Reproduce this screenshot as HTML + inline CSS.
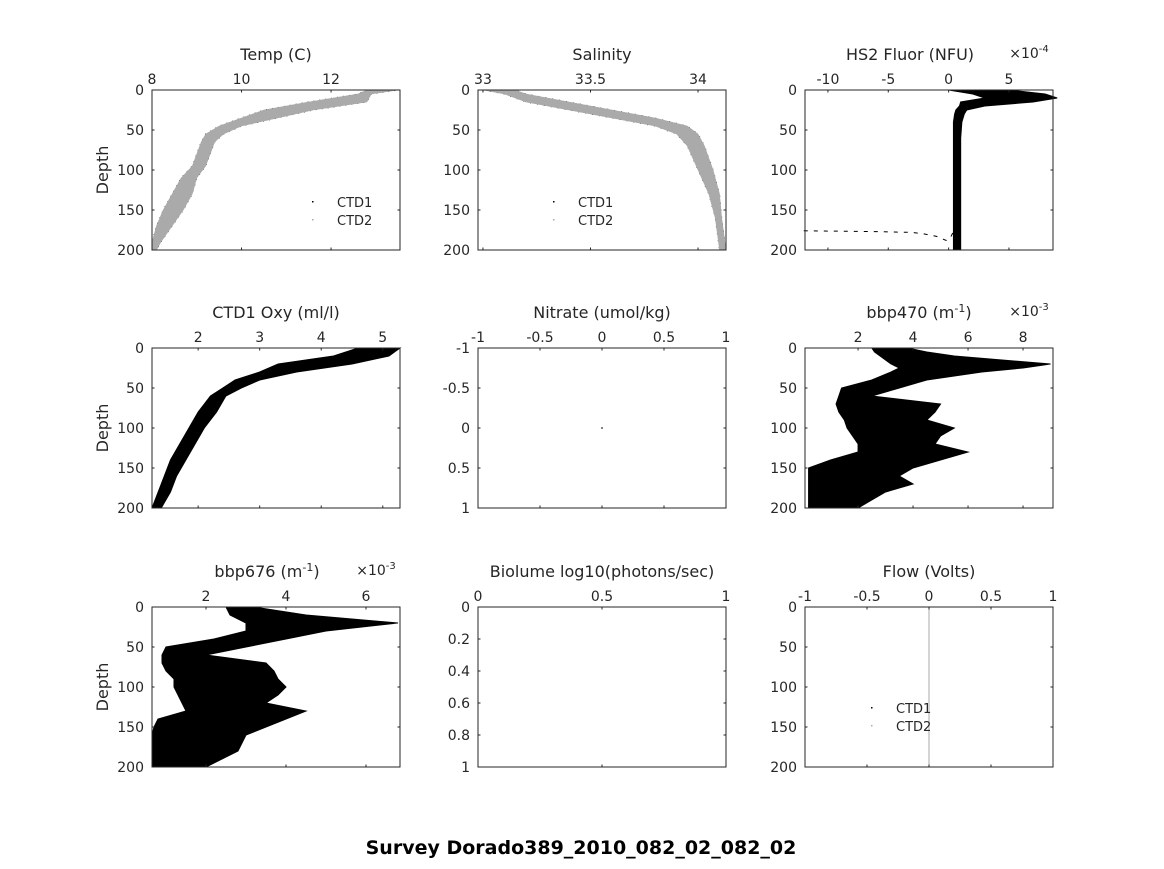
<!DOCTYPE html>
<html><head><meta charset="utf-8">
<style>
body{margin:0;background:#fff;}
svg text{font-family:"DejaVu Sans","Liberation Sans",sans-serif;fill:#262626;}
</style></head>
<body>
<svg id="fig" width="1164" height="864" viewBox="0 0 1164 864" xmlns="http://www.w3.org/2000/svg">
<rect width="1164" height="864" fill="#fff"/>
<text x="581" y="854" text-anchor="middle" font-size="19" font-weight="bold" style="fill:#000">Survey Dorado389_2010_082_02_082_02</text>
</svg>
<script>
// ---- data arrays ----
const tempDepth = [0,5,15,25,35,45,55,65,80,95,110,130,150,170,190,200];
const tempLo    = [12.8,12.6,11.5,10.5,10.0,9.5,9.2,9.1,9.0,8.9,8.65,8.45,8.25,8.1,8.0,8.0];
const tempHi    = [13.5,12.9,12.8,11.6,10.8,10.0,9.6,9.4,9.3,9.2,9.0,8.9,8.7,8.45,8.2,8.1];
const salDepth = [0,5,15,25,35,45,55,70,100,130,160,200];
const salLo    = [33.0,33.1,33.2,33.4,33.6,33.8,33.9,33.95,34.0,34.05,34.08,34.1];
const salHi    = [33.15,33.2,33.4,33.6,33.8,33.95,34.0,34.03,34.07,34.1,34.11,34.13];
const fluDepth = [0,5,10,15,20,25,30,40,60,200];
const fluLo    = [0.0,2.0,3.0,1.0,0.9,0.6,0.5,0.4,0.4,0.4];
const fluHi    = [5.0,8.0,9.0,7.0,3.0,1.5,1.3,1.1,1.0,1.0];
const fluTailDepth = [176,177,178,180,183,188,186,180,176];
const fluTailVal   = [-12,-6,-3,-2,-1,-0.2,0.1,0.3,0.4];
const oxyDepth = [0,10,20,30,40,50,60,80,100,120,140,160,180,200];
const oxyLo    = [4.6,4.2,3.3,3.0,2.6,2.4,2.2,2.0,1.85,1.7,1.55,1.45,1.35,1.25];
const oxyHi    = [5.28,5.1,4.5,3.6,3.0,2.7,2.45,2.3,2.1,1.95,1.8,1.65,1.55,1.4];
const b470Depth = [0,5,10,20,25,30,40,50,60,70,80,90,100,110,120,130,140,150,160,170,180,190,200];
const b470Lo    = [2.5,2.6,2.8,3.2,3.5,3.2,2.5,1.4,1.3,1.2,1.3,1.5,1.6,1.8,2.0,2.0,1.0,0.2,0.2,0.2,0.2,0.2,0.2];
const b470Hi    = [3.8,4.5,5.5,9.0,8.0,6.5,4.5,3.5,2.5,5.0,4.8,4.5,5.5,5.0,4.8,6.0,5.0,4.0,3.5,4.0,3.0,2.5,2.0];
const b676Depth = [0,10,20,30,40,50,60,70,80,90,100,110,120,130,140,150,160,180,200];
const b676Lo    = [2.5,2.6,3.0,3.0,2.2,1.0,0.9,0.9,1.0,1.2,1.2,1.3,1.4,1.5,0.8,0.7,0.65,0.65,0.65];
const b676Hi    = [3.2,4.5,6.8,5.0,4.0,3.0,2.0,3.5,3.7,3.8,4.0,3.8,3.5,4.5,4.0,3.5,3.0,2.8,2.0];
const nitPointX = [0], nitPointY = [0];
const flowLineX = [0];
const tempTicks=[8,10,12], salTicks=[33,33.5,34], fluTicks=[-10,-5,0,5];
const oxyTicks=[2,3,4,5], nitTicks=[-1,-0.5,0,0.5,1], b470Ticks=[2,4,6,8];
const b676Ticks=[2,4,6], bioXTicks=[0,0.5,1], bioYTicks=[0,0.2,0.4,0.6,0.8,1];
const depthTicks=[0,50,100,150,200];

const NS='http://www.w3.org/2000/svg';
const svg=document.getElementById('fig');
function el(tag,attrs,parent){const e=document.createElementNS(NS,tag);for(const k in attrs)e.setAttribute(k,attrs[k]);(parent||svg).appendChild(e);return e;}
const cols=[152,478,805], rows=[90,348,607], W=248, H=160;

function panel(ci,ri,o){
  const L=cols[ci],T=rows[ri],R=L+W,B=T+H;
  const g=el('g',{});
  
  
  const sx=v=>L+(v-o.x0)/(o.x1-o.x0)*W;
  const sy=v=>T+(v-o.y0)/(o.y1-o.y0)*H;
  el('rect',{x:L,y:T,width:W,height:H,fill:'#fff'},g);
  (o.bands||[]).forEach(b=>{
    let pts=b.d.map((d,i)=>sx(b.lo[i])+','+sy(d));
    for(let i=b.d.length-1;i>=0;i--)pts.push(sx(b.hi[i])+','+sy(b.d[i]));
    const p=el('polygon',{points:pts.join(' '),fill:b.fill,stroke:b.stroke||b.fill,'stroke-width':b.sw||1,'stroke-dasharray':b.dash||'none'},g);
    
    
  });
  (o.lines||[]).forEach(l=>{
    const p=el('polyline',{points:l.x.map((v,i)=>sx(v)+','+sy(l.y[i])).join(' '),fill:'none',stroke:l.c,'stroke-width':l.w||1,'stroke-dasharray':l.dash||'none'},g);
    
    
  });
  (o.points||[]).forEach(pt=>{
    const c=el('rect',{x:sx(pt.x)-0.7,y:sy(pt.y)-0.7,width:1.4,height:1.4,fill:'#000'},g);
    
    
  });
  el('rect',{x:L,y:T,width:W,height:H,fill:'none',stroke:'#262626','stroke-width':1},g);
  o.xt.forEach(t=>{const x=sx(t);
    el('line',{x1:x,y1:T,x2:x,y2:T+2.5,stroke:'#262626'},g);
    el('line',{x1:x,y1:B,x2:x,y2:B-2.5,stroke:'#262626'},g);
    const tx=el('text',{x:x,y:T-6,'text-anchor':'middle','font-size':14},g);tx.textContent=t;
    
    });
  o.yt.forEach(t=>{const y=sy(t);
    el('line',{x1:L,y1:y,x2:L+2.5,y2:y,stroke:'#262626'},g);
    el('line',{x1:R,y1:y,x2:R-2.5,y2:y,stroke:'#262626'},g);
    const tx=el('text',{x:L-8,y:y+5,'text-anchor':'end','font-size':14},g);tx.textContent=t;
    
    });
  const ti=el('text',{x:o.tx||L+W/2,y:T-30,'text-anchor':'middle','font-size':16},g);ti.innerHTML=o.title;
  
  
  if(o.mult){const m=el('text',{x:R-24,y:T-32,'text-anchor':'middle','font-size':14},g);m.innerHTML='×10<tspan dy="-6" font-size="10">'+o.mult+'</tspan>';
    
    }
  if(ci===0){const yl=el('text',{x:0,y:0,'text-anchor':'middle','font-size':16,transform:'translate('+(L-44)+','+(T+H/2)+') rotate(-90)'},g);yl.textContent='Depth';
    
    }
  if(o.legend){const lx=L+o.legend[0],ly=T+o.legend[1];
    [['CTD1','#000'],['CTD2','#aaa']].forEach((e,i)=>{
      const lg=el('g',{},g);
      
      
      el('rect',{x:lx,y:ly+i*18-1,width:1.5,height:1.5,fill:e[1]},lg);
      const t=el('text',{x:lx+25,y:ly+i*18+5,'font-size':13},lg);t.textContent=e[0];});}
}
panel(0,0,{name:'temp-panel',x0:8,x1:13.54,y0:0,y1:200,xt:tempTicks,yt:depthTicks,title:'Temp (C)',legend:[160,112],
  bands:[{name:'temp-ctd1',d:tempDepth,lo:tempLo,hi:tempHi,fill:'#aaa',stroke:'#000',sw:1,dash:'1 5'},{name:'temp-ctd2',d:tempDepth,lo:tempLo,hi:tempHi,fill:'#aaa',stroke:'#aaa',sw:0.5}]});
panel(1,0,{name:'salinity-panel',x0:32.977,x1:34.13,y0:0,y1:200,xt:salTicks,yt:depthTicks,title:'Salinity',legend:[75,112],
  bands:[{name:'sal-ctd1',d:salDepth,lo:salLo,hi:salHi,fill:'#aaa',stroke:'#000',sw:1,dash:'1 6'},{name:'sal-ctd2',d:salDepth,lo:salLo,hi:salHi,fill:'#aaa',stroke:'#aaa',sw:0.5}]});
panel(2,0,{name:'fluor-panel',x0:-11.9,x1:8.65,y0:0,y1:200,xt:fluTicks,yt:depthTicks,title:'HS2 Fluor (NFU)',tx:910,mult:'-4',
  bands:[{name:'fluor-band',d:fluDepth,lo:fluLo,hi:fluHi,fill:'#000'}],
  lines:[{name:'fluor-tail',x:fluTailVal,y:fluTailDepth,c:'#000',w:1,dash:'4 6'}]});
panel(0,1,{name:'oxygen-panel',x0:1.25,x1:5.28,y0:0,y1:200,xt:oxyTicks,yt:depthTicks,title:'CTD1 Oxy (ml/l)',
  bands:[{name:'oxy-band',d:oxyDepth,lo:oxyLo,hi:oxyHi,fill:'#000'}]});
panel(1,1,{name:'nitrate-panel',x0:-1,x1:1,y0:-1,y1:1,xt:nitTicks,yt:nitTicks,title:'Nitrate (umol/kg)',
  points:nitPointX.map((x,i)=>({x:x,y:nitPointY[i]}))});
panel(2,1,{name:'bbp470-panel',x0:0.07,x1:9.09,y0:0,y1:200,xt:b470Ticks,yt:depthTicks,title:'bbp470 (m<tspan dy="-6" font-size="11">-1</tspan><tspan dy="6">)</tspan>',tx:919,mult:'-3',
  bands:[{name:'bbp470-band',d:b470Depth,lo:b470Lo,hi:b470Hi,fill:'#000'}]});
panel(0,2,{name:'bbp676-panel',x0:0.65,x1:6.85,y0:0,y1:200,xt:b676Ticks,yt:depthTicks,title:'bbp676 (m<tspan dy="-6" font-size="11">-1</tspan><tspan dy="6">)</tspan>',tx:267,mult:'-3',
  bands:[{name:'bbp676-band',d:b676Depth,lo:b676Lo,hi:b676Hi,fill:'#000'}]});
panel(1,2,{name:'biolume-panel',x0:0,x1:1,y0:0,y1:1,xt:bioXTicks,yt:bioYTicks,title:'Biolume log10(photons/sec)'});
panel(2,2,{name:'flow-panel',x0:-1,x1:1,y0:0,y1:200,xt:nitTicks,yt:depthTicks,title:'Flow (Volts)',legend:[66,101],
  lines:[{name:'flow-ctd2-line',x:[flowLineX[0],flowLineX[0]],y:[0,200],c:'#aaa',w:1}]});
</script>
</body></html>
